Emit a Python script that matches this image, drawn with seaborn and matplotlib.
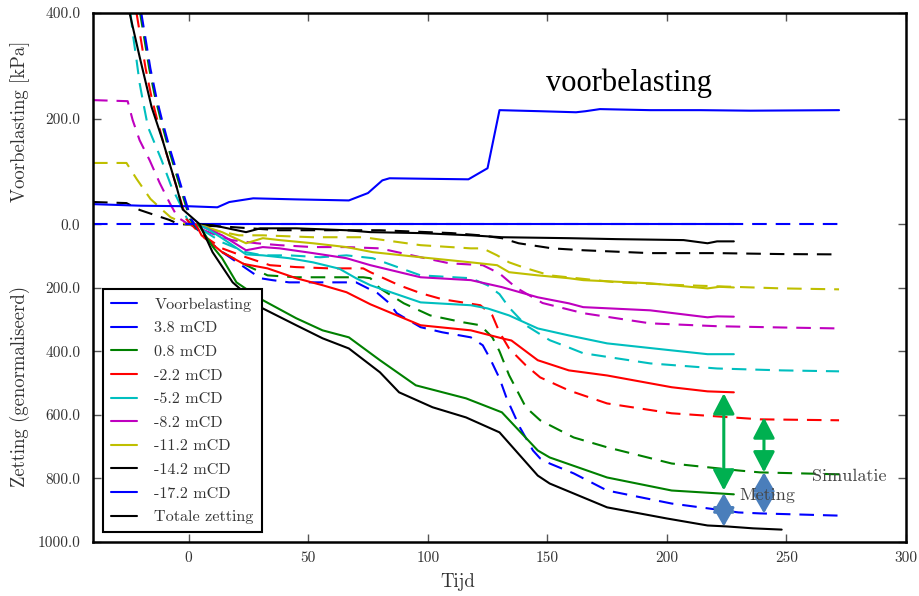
import numpy as np
import matplotlib
matplotlib.use("Agg")
import matplotlib.pyplot as plt
from matplotlib.lines import Line2D
import seaborn as sns

# ---------------- data (time in days; y: kPa above 0, -zetting below 0) ----------------
t_voorbelasting = [-40, -20, 0, 12, 17, 27, 45, 67, 75, 81, 84, 100, 117, 125, 130, 147, 162, 166, 172, 193, 214, 235, 272]
y_voorbelasting = [38, 35, 34, 32, 42, 49, 47, 45, 59, 83, 87, 86, 85, 106, 216, 214, 212, 214, 218, 216, 216, 215, 216]

# measurements (solid)
t_meas_m17_2 = [-1, 228]
y_meas_m17_2 = [0, 0]
t_meas_m14_2 = [3, 10, 24, 30, 45, 66, 76, 97, 118, 131, 159, 179, 207, 217, 221, 228]
y_meas_m14_2 = [0, -3, -25, -13, -13, -19, -25, -28, -35, -41, -44, -47, -50, -60, -54, -54]
t_meas_m11_2 = [3, 7.5, 14, 24, 31, 38, 52, 66, 77, 97, 118, 129, 134, 146, 159, 165, 193, 217, 222, 228]
y_meas_m11_2 = [0, -9, -25, -60, -44, -50, -60, -72, -88, -104, -120, -129, -151, -161, -170, -176, -186, -202, -197, -199]
t_meas_m8_2 = [3, 7.5, 14, 24, 31, 38, 52, 66, 76, 97, 118, 131, 146, 159, 165, 193, 217, 221, 228]
y_meas_m8_2 = [0, -13, -35, -82, -72, -76, -91, -107, -129, -167, -176, -198, -230, -249, -261, -271, -293, -290, -291]
t_meas_m5_2 = [3, 7.5, 14, 24, 31, 42, 52, 63, 70, 76, 97, 118, 125, 134, 146, 159, 175, 202, 217, 228]
y_meas_m5_2 = [0, -13, -44, -95, -98, -107, -120, -140, -170, -192, -246, -255, -265, -287, -328, -350, -375, -397, -409, -409]
t_meas_m2_2 = [3, 5.4, 14, 23, 33, 45, 56, 66, 76, 97, 118, 131, 135, 146, 159, 175, 202, 217, 228]
y_meas_m2_2 = [0, -35, -88, -125, -139, -170, -192, -214, -252, -318, -334, -359, -366, -428, -460, -476, -513, -526, -529]
t_meas_0_8 = [4, 10, 14, 20, 31, 45, 56, 67, 80, 95, 116, 131, 146, 151, 175, 202, 228]
y_meas_0_8 = [0, -70, -107, -183, -239, -296, -334, -356, -428, -507, -548, -592, -712, -734, -797, -838, -850]
t_totaal = [-24.7, -20.5, -15.5, -10.9, -5, -2.5, 4.6, 10, 18.4, 31, 45, 56, 67, 80, 88, 102, 116, 130, 146, 151, 175, 200, 217, 225, 236, 248]
y_totaal = [400, 317, 222, 159, 70, 28, 0, -88, -183, -265, -318, -359, -391, -466, -529, -576, -608, -655, -791, -816, -891, -926, -948, -951, -957, -961]

# simulations (dashed)
t_sim_m17_2 = [-40, 272]
y_sim_m17_2 = [0, 0]
t_sim_m14_2 = [-40, -26, -20.5, -8, -5, -3, 8, 18, 38, 80, 110, 122, 131, 138, 152, 165, 193, 221, 248, 272]
y_sim_m14_2 = [42, 40, 27, 8, 2, 0, -5, -9, -19, -19, -28, -35, -44, -60, -76, -82, -91, -91, -94, -95]
t_sim_m11_2 = [-40, -26, -21.8, -16, -11, -7.5, -5, -1, 8, 21, 31, 52, 73, 97, 118, 123, 129, 134, 140, 151, 179, 207, 248, 272]
y_sim_m11_2 = [116, 116, 86, 48, 27, 13, 8, 0, -15, -35, -35, -41, -41, -66, -76, -76, -98, -120, -136, -161, -183, -192, -202, -205]
t_sim_m8_2 = [-40, -25.5, -23.4, -20.5, -16.3, -12.1, -7.9, -4.6, -0.8, 10, 18, 28.5, 38, 52, 66, 80, 97, 109, 123, 130, 137, 148, 165, 193, 221, 248, 272]
y_sim_m8_2 = [235, 233, 197, 159, 121, 78, 40, 13, 2, -30, -50, -60, -66, -72, -72, -76, -104, -123, -129, -155, -200, -248, -280, -312, -321, -325, -328]
t_sim_m5_2 = [-24.3, -23.4, -21.8, -20.5, -19.2, -17, -11.3, -7.1, -2.9, 0.4, 4.6, 14, 24, 31, 42, 55, 66, 77, 97, 118, 125, 130, 134, 141, 151, 159, 165, 193, 221, 248, 272]
y_sim_m5_2 = [400, 362, 311, 267, 235, 184, 121, 70, 32, 0, -13, -57, -88, -98, -98, -104, -98, -107, -161, -170, -192, -220, -262, -318, -365, -388, -406, -438, -454, -460, -463]
t_sim_m2_2 = [-21.8, -19.8, -18, -15.5, -13, -10, -7, -4, -1, 1, 4.6, 14, 24, 34, 45, 59, 73, 76, 88, 97, 106, 122, 127, 130, 134, 141, 147, 159, 175, 202, 239, 272]
y_sim_m2_2 = [400, 345, 295, 240, 195, 145, 100, 55, 10, 0, -28, -76, -104, -129, -135, -139, -139, -151, -192, -217, -236, -255, -287, -340, -391, -444, -482, -523, -564, -595, -614, -617]
t_sim_0_8 = [-20.3, -18.3, -16.5, -14, -11.5, -8.5, -5.5, -2.5, 0.5, 2, 5.4, 14, 24, 33, 45, 59, 73, 76, 80, 90, 101, 115, 122, 127, 130, 134, 141, 147, 161, 175, 202, 230, 239, 272]
y_sim_0_8 = [400, 345, 295, 240, 195, 145, 100, 55, 10, 0, -35, -88, -129, -161, -167, -167, -167, -170, -202, -249, -287, -309, -318, -356, -400, -475, -576, -617, -671, -702, -753, -775, -781, -787]
t_sim_3_8 = [-19.8, -17.8, -16, -13.5, -11, -8, -5, -2, 1, 2.5, 5, 10, 16, 24, 30, 35, 42, 59, 70, 79, 84, 87, 97, 106, 118, 123, 126, 130, 133, 138.5, 144, 147, 151, 161, 175, 202, 230, 239, 272]
y_sim_3_8 = [400, 345, 295, 240, 195, 145, 100, 55, 10, 0, -30, -65, -98, -139, -170, -176, -183, -183, -183, -217, -249, -280, -324, -340, -356, -381, -422, -485, -548, -639, -712, -737, -753, -784, -838, -879, -907, -910, -917]

legend_labels = ["Voorbelasting", "3.8 mCD", "0.8 mCD", "-2.2 mCD", "-5.2 mCD",
                 "-8.2 mCD", "-11.2 mCD", "-14.2 mCD", "-17.2 mCD", "Totale zetting"]

# classic matplotlib colour codes
B, G, R, C, M, Y, K = '#0000ff', '#008000', '#ff0000', '#00bfbf', '#bf00bf', '#bfbf00', '#000000'
legend_colors = [B, B, G, R, C, M, Y, K, B, K]

ytick_values = [400, 200, 0, -200, -400, -600, -800, -1000]
ytick_labels = ["400.0", "200.0", "0.0", "200.0", "400.0", "600.0", "800.0", "1000.0"]
xtick_values = [0, 50, 100, 150, 200, 250, 300]

# double arrows: (t, y_start, y_end)
arrows_green = [(223.8, -532, -838), (240.6, -608, -781)]
arrows_blue = [(223.8, -847, -951), (240.6, -781, -910)]

# ---------------- style ----------------
sns.set_theme(style="white", color_codes=False)
plt.rcParams['font.family'] = ['cmr10', 'DejaVu Serif']
plt.rcParams['axes.formatter.use_mathtext'] = True
plt.rcParams['axes.unicode_minus'] = False
TXT = '#333333'

fig = plt.figure(figsize=(9.2, 5.96), dpi=100)
ax = fig.add_axes([93 / 920, 54 / 596, 813 / 920, 529 / 596])

solid = [
    (t_voorbelasting, y_voorbelasting, B),
    (t_meas_m17_2, y_meas_m17_2, B),
    (t_meas_m14_2, y_meas_m14_2, K),
    (t_meas_m11_2, y_meas_m11_2, Y),
    (t_meas_m8_2, y_meas_m8_2, M),
    (t_meas_m5_2, y_meas_m5_2, C),
    (t_meas_m2_2, y_meas_m2_2, R),
    (t_meas_0_8, y_meas_0_8, G),
    (t_totaal, y_totaal, K),
]
dashed = [
    (t_sim_m17_2, y_sim_m17_2, B),
    (t_sim_m14_2, y_sim_m14_2, K),
    (t_sim_m11_2, y_sim_m11_2, Y),
    (t_sim_m8_2, y_sim_m8_2, M),
    (t_sim_m5_2, y_sim_m5_2, C),
    (t_sim_m2_2, y_sim_m2_2, R),
    (t_sim_0_8, y_sim_0_8, G),
    (t_sim_3_8, y_sim_3_8, B),
]
for t, y, c in dashed:
    sns.lineplot(x=t, y=y, ax=ax, color=c, linewidth=1.5, estimator=None, sort=False, legend=False)
    ax.lines[-1].set_dashes((7, 4.3))
for t, y, c in solid:
    sns.lineplot(x=t, y=y, ax=ax, color=c, linewidth=1.5, estimator=None, sort=False, legend=False)

# piecewise y-scale: kPa above zero, normalised settlement below zero
k = 0.3175 / 0.5275


def fwd(y):
    y = np.asarray(y, dtype=float)
    return np.where(y >= 0, y, y * k)


def inv(y):
    y = np.asarray(y, dtype=float)
    return np.where(y >= 0, y, y / k)


ax.set_yscale('function', functions=(fwd, inv))
ax.set_xlim(-40, 300)
ax.set_ylim(-1000, 400)
ax.set_yticks(ytick_values)
ax.set_yticklabels(ytick_labels)
ax.set_xticks(xtick_values)
ax.set_xticklabels([str(v) for v in xtick_values])
ax.set_xlabel('')
ax.set_ylabel('')

ax.tick_params(axis='both', which='major', direction='in', length=6, width=1,
               color='#555555', labelsize=11, labelcolor=TXT,
               top=True, bottom=True, left=True, right=True)
ax.tick_params(axis='y', pad=9)
ax.tick_params(axis='x', pad=7)
for sp in ax.spines.values():
    sp.set_color('black')
    sp.set_linewidth(1.8)
    sp.set_visible(True)

# legend
handles = [Line2D([0], [0], color=c, lw=1.5) for c in legend_colors]
leg = ax.legend(handles, legend_labels, loc='lower left', frameon=True, fancybox=False,
                edgecolor='black', framealpha=1, fontsize=11.6, handlelength=1.6,
                handletextpad=1.1, borderaxespad=0.6, borderpad=0.5, labelspacing=0.58)
leg.get_frame().set_linewidth(1.5)
for txt in leg.get_texts():
    txt.set_color(TXT)

# arrows
for t, y0, y1 in arrows_green:
    ax.annotate('', xy=(t, y1), xytext=(t, y0),
                arrowprops=dict(arrowstyle='<|-|>,head_length=1.05,head_width=0.55',
                                color='#00b050', lw=2.2, shrinkA=0, shrinkB=0))
for t, y0, y1 in arrows_blue:
    ax.annotate('', xy=(t, y1), xytext=(t, y0),
                arrowprops=dict(arrowstyle='<|-|>,head_length=0.95,head_width=0.55',
                                color='#4a7ebb', lw=2.2, shrinkA=0, shrinkB=0))

ax.text(230.5, -853, 'Meting', fontsize=13, color='#444444', ha='left', va='center')
ax.text(260.7, -794, 'Simulatie', fontsize=13, color='#444444', ha='left', va='center')
ax.text(184, 267, 'voorbelasting', fontsize=22, family='Liberation Serif',
        color='black', ha='center', va='center')

fig.text(20 / 920, 1 - 121 / 596, 'Voorbelasting [kPa]', rotation=90, ha='center',
         va='center', fontsize=13.5, color=TXT)
fig.text(20 / 920, 1 - 386 / 596, 'Zetting (genormaliseerd)', rotation=90, ha='center',
         va='center', fontsize=13.5, color=TXT)
fig.text(458 / 920, 1 - 582 / 596, 'Tijd', ha='center', va='center', fontsize=13.5, color=TXT)

fig.savefig('out.png', dpi=100)
